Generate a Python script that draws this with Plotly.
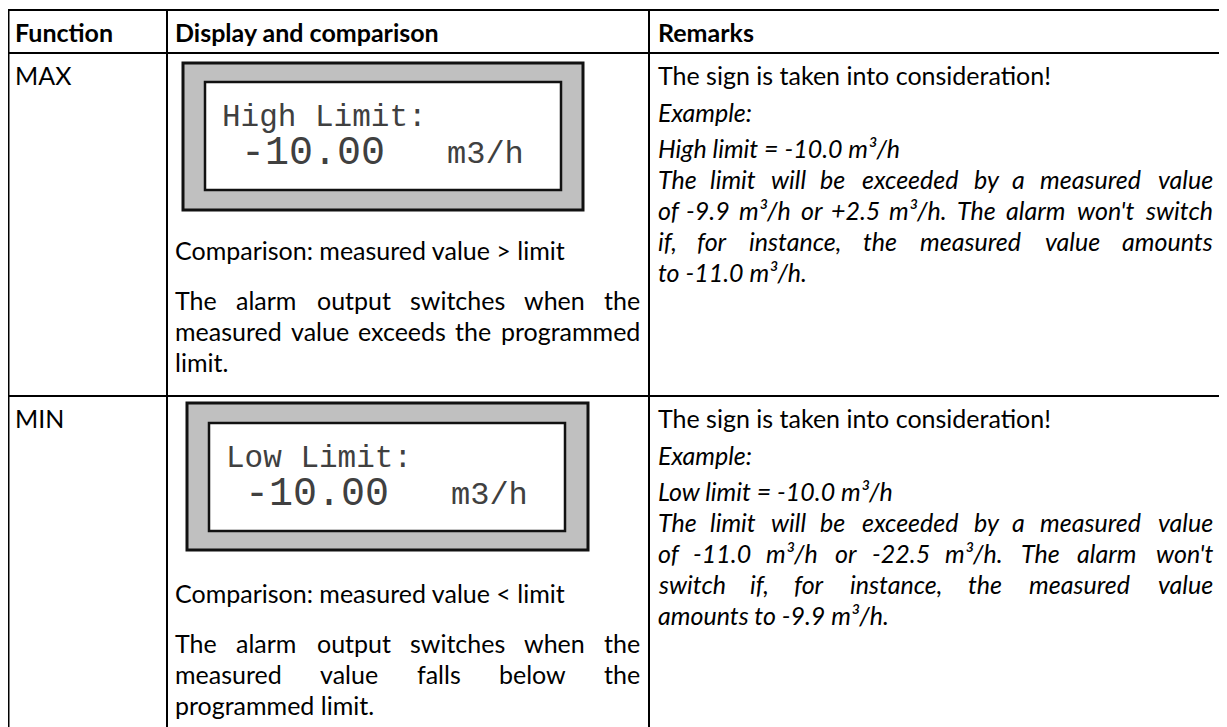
import plotly.graph_objects as go

# ---------------- content ----------------
headers = ["Function", "Display and comparison", "Remarks"]
functions = ["MAX", "MIN"]
display_titles = ["High Limit:", "Low Limit:"]
display_values = ["-10.00", "-10.00"]
display_units = ["m3/h", "m3/h"]
comparisons = ["Comparison: measured value > limit",
               "Comparison: measured value < limit"]
descriptions = [
    ["The alarm output switches when the",
     "measured value exceeds the programmed",
     "limit."],
    ["The alarm output switches when the",
     "measured value falls below the",
     "programmed limit."],
]
remark_intro = "The sign is taken into consideration!"
remark_example = "Example:"
remark_limits = ["High limit = -10.0 m³/h",
                 "Low limit = -10.0 m³/h"]
remark_texts = [
    ["The limit will be exceeded by a measured value",
     "of -9.9 m³/h or +2.5 m³/h. The alarm won't switch",
     "if, for instance, the measured value amounts",
     "to -11.0 m³/h."],
    ["The limit will be exceeded by a measured value",
     "of -11.0 m³/h or -22.5 m³/h. The alarm won't",
     "switch if, for instance, the measured value",
     "amounts to -9.9 m³/h."],
]

# ---------------- layout constants (page pixel coordinates) ----------------
W, H = 1227, 727
OFF = 8                      # default body margin of the html page
FONT = "Lato, Carlito, Calibri, sans-serif"
MONO = "Liberation Mono, Courier New, monospace"
FS = 25
LINE_R = 31                  # line pitch in remarks column
PARA_R = 36.5
LINE_L = 31                  # line pitch in display column
PARA_L = 50
col_x = [8.5, 167, 649, 1225]
row_y = [10, 53, 396, 760]
pad = 7
box_outer = [(183, 63, 583, 210), (187, 403, 588, 550)]
box_inner = [(205, 82, 561, 190), (209, 423, 565, 531)]

CW = {' ': .226, 'a': .479, 'b': .525, 'c': .423, 'd': .525, 'e': .498, 'f': .305,
      'g': .471, 'h': .525, 'i': .229, 'j': .239, 'k': .455, 'l': .229, 'm': .799,
      'n': .525, 'o': .527, 'p': .525, 'q': .525, 'r': .349, 's': .391, 't': .335,
      'u': .525, 'v': .452, 'w': .715, 'x': .433, 'y': .453, 'z': .395,
      'T': .487, 'C': .533, 'L': .42, 'H': .623, 'E': .488, '.': .252, ',': .25,
      '-': .306, '+': .498, '=': .498, '/': .386, "'": .221, '!': .267, ':': .268,
      '<': .498, '>': .498, '³': .33}
for d in '0123456789':
    CW[d] = .507
K = 1.05


def text_width(s, size):
    return sum(CW.get(c, .5) for c in s) * size * K


annotations = []


def add_text(txt, x, yc, size=FS, bold=False, italic=False, xanchor="left",
             family=FONT, color="#000000"):
    if italic:
        txt = "<i>" + txt + "</i>"
    if bold:
        txt = "<b>" + txt + "</b>"
    annotations.append(dict(
        x=x, y=yc, xref="x", yref="y", text=txt, showarrow=False,
        xanchor=xanchor, yanchor="middle", align="left",
        font=dict(family=family, size=size, color=color), borderpad=0))


def add_justified(line, x0, x1, yc, italic=False):
    words = line.split(" ")
    widths = [text_width(w, FS) for w in words]
    n = len(words)
    gap = (x1 - x0 - sum(widths)) / (n - 1)
    pos = x0
    for i, (w, wd) in enumerate(zip(words, widths)):
        if i == 0:
            add_text(w, x0, yc, italic=italic, xanchor="left")
        elif i == n - 1:
            add_text(w, x1, yc, italic=italic, xanchor="right")
        else:
            add_text(w, pos + wd / 2, yc, italic=italic, xanchor="center")
        pos += wd + gap


shapes = []
for x in col_x:
    shapes.append(dict(type="line", x0=x, x1=x, y0=row_y[0], y1=row_y[-1],
                       line=dict(color="black", width=2)))
for y in row_y[:-1]:
    shapes.append(dict(type="line", x0=col_x[0] - 1, x1=col_x[-1] + 1, y0=y, y1=y,
                       line=dict(color="black", width=2)))

header_x = [14, col_x[1] + pad, col_x[2] + pad + 1]
for hx, ht in zip(header_x, headers):
    add_text(ht, hx, 32, bold=True)

left0 = col_x[1] + pad
left1 = col_x[2] - pad - 1
right0 = col_x[2] + pad + 1
right1 = col_x[3] - 11

for r in range(2):
    top = row_y[r + 1]
    add_text(functions[r], 14, top + 22)
    ox0, oy0, ox1, oy1 = box_outer[r]
    ix0, iy0, ix1, iy1 = box_inner[r]
    shapes.append(dict(type="rect", x0=ox0 + 1, y0=oy0 + 1, x1=ox1 + 1, y1=oy1 + 1,
                       fillcolor="#808080", line=dict(width=0), opacity=0.5))
    shapes.append(dict(type="rect", x0=ox0, y0=oy0, x1=ox1, y1=oy1,
                       fillcolor="#c0c0c0", line=dict(color="#111111", width=3)))
    shapes.append(dict(type="rect", x0=ix0, y0=iy0, x1=ix1, y1=iy1,
                       fillcolor="#ffffff", line=dict(color="#111111", width=2.5)))
    mid = (iy0 + iy1) / 2
    annotations.append(dict(x=ix0 + 15, y=mid - 19, xref="x", yref="y",
                            text=display_titles[r], showarrow=False, xanchor="left",
                            yanchor="middle", font=dict(family=MONO, size=31, color="#404040")))
    annotations.append(dict(x=ix0 + 34, y=mid + 17, xref="x", yref="y",
                            text=display_values[r], showarrow=False, xanchor="left",
                            yanchor="middle", font=dict(family=MONO, size=40, color="#404040")))
    annotations.append(dict(x=ix0 + 240, y=mid + 18, xref="x", yref="y",
                            text=display_units[r], showarrow=False, xanchor="left",
                            yanchor="middle", font=dict(family=MONO, size=32, color="#404040")))
    # comparison and description
    yc = top + 197
    add_text(comparisons[r], left0, yc)
    yc += PARA_L
    desc = descriptions[r]
    for j, line in enumerate(desc):
        if j < len(desc) - 1:
            add_justified(line, left0, left1, yc)
        else:
            add_text(line, left0, yc)
        yc += LINE_L
    # remarks
    yc = top + 22
    add_text(remark_intro, right0, yc)
    yc += PARA_R
    add_text(remark_example, right0, yc, italic=True)
    yc += PARA_R
    add_text(remark_limits[r], right0, yc, italic=True)
    yc += LINE_R
    rt = remark_texts[r]
    for j, line in enumerate(rt):
        if j < len(rt) - 1:
            add_justified(line, right0, right1, yc, italic=True)
        else:
            add_text(line, right0, yc, italic=True)
        yc += LINE_R

fig = go.Figure()
fig.update_layout(
    width=W - OFF, height=H - OFF, margin=dict(l=0, r=0, t=0, b=0),
    paper_bgcolor="white", plot_bgcolor="white",
    xaxis=dict(range=[OFF, W], visible=False, fixedrange=True),
    yaxis=dict(range=[H, OFF], visible=False, fixedrange=True),
    shapes=shapes, annotations=annotations, showlegend=False,
)
fig.write_html("out.html")
